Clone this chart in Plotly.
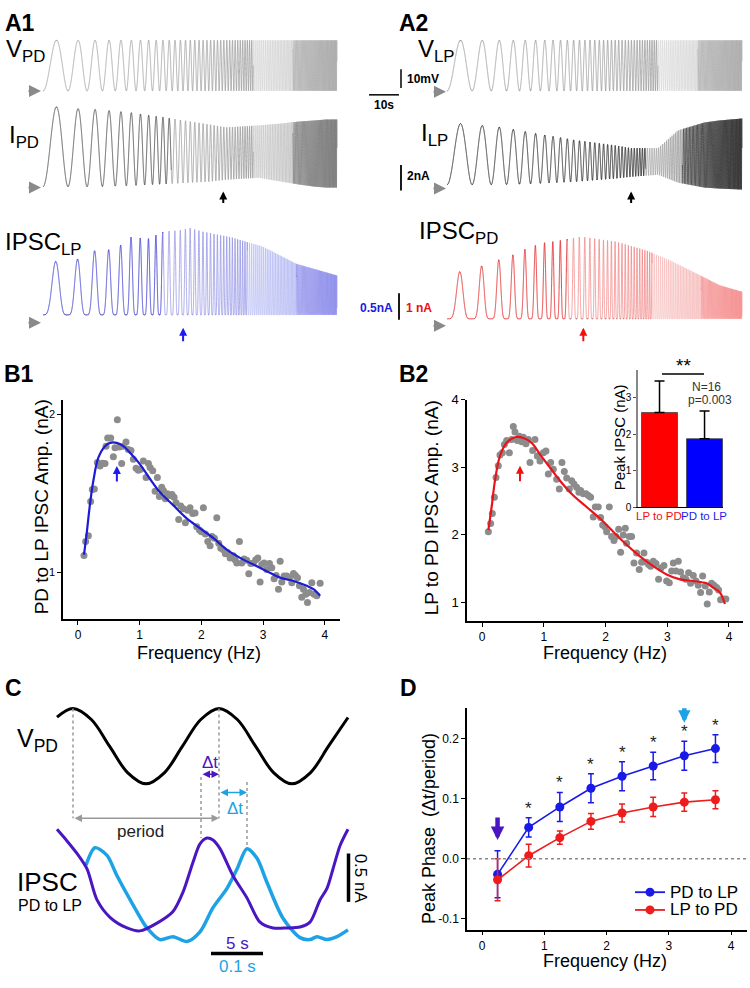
import numpy as np
import plotly.graph_objects as go

W, H = 750, 988
FONT = "Liberation Sans, Arial, Helvetica, sans-serif"

# ======================= DATA =======================
# ---- Panel A: chirp protocol (log sweep) and envelopes ----
chirp_f_start_hz = 0.1
chirp_f_end_hz = 4.0
chirp_duration_s = 100.0
v_pp_mV = 27.0

i_pd_env_freq = [0.1, 0.15, 0.2, 0.3, 0.5, 0.8, 1.0, 1.5, 2.0, 2.5, 3.0, 3.5, 4.0]
i_pd_top_nA = [6.64, 6.4, 6.32, 6.08, 5.6, 5.12, 4.88, 5.04, 5.2, 5.36, 5.44, 5.52, 5.52]
i_pd_bottom_nA = [0.08, 0.08, 0.08, 0.16, 0.32, 0.48, 0.64, 0.8, 0.48, 0.24, 0.08, 0.0, 0.0]

i_lp_env_freq = [0.1, 0.2, 0.3, 0.5, 0.8, 1.0, 1.4, 1.8, 2.5, 3.0, 4.0]
i_lp_top_nA = [5.44, 5.04, 4.56, 4.0, 3.6, 3.36, 3.36, 4.8, 5.44, 5.6, 5.76]
i_lp_bottom_nA = [0.4, 0.4, 0.48, 0.64, 0.88, 1.04, 1.2, 0.56, 0.16, 0.08, 0.0]

ipsc_lp_env_freq = [0.1, 0.115, 0.153, 0.188, 0.227, 0.263, 0.298, 0.375, 0.453, 0.57, 0.632,
                    0.745, 1.05, 1.58, 2.4, 3.4, 4.0]
ipsc_lp_peak_nA = [1.0, 1.0, 1.04, 1.2, 1.22, 1.3, 1.46, 1.43, 1.56, 1.59, 1.63,
                   1.56, 1.46, 1.28, 0.96, 0.81, 0.74]
ipsc_pd_env_freq = [0.1, 0.113, 0.151, 0.186, 0.223, 0.26, 0.297, 0.333, 0.402, 0.517, 0.554,
                    0.649, 0.835, 1.215, 1.63, 2.27, 3.03, 3.9, 4.0]
ipsc_pd_peak_nA = [1.74, 1.74, 1.96, 2.19, 2.37, 2.59, 2.74, 2.85, 2.93, 3.07, 3.07,
                   3.0, 2.89, 2.56, 2.19, 1.70, 1.26, 1.04, 1.02]

a1_i_arrow_hz = 0.96
a2_i_arrow_hz = 1.0
a1_ipsc_arrow_hz = 0.58
a2_ipsc_arrow_hz = 0.55

# ---- Panel B1: PD->LP IPSC amplitude vs frequency ----
b1_freq = [0.097, 0.124, 0.168, 0.205, 0.232, 0.265, 0.314, 0.357, 0.395, 0.438, 0.454, 0.481,
           0.530, 0.573, 0.600, 0.638, 0.670, 0.708, 0.735, 0.778, 0.816, 0.859, 0.897, 0.941,
           0.978, 1.016, 1.059, 1.103, 1.141, 1.168, 1.211, 1.249, 1.286, 1.319, 1.357, 1.384,
           1.416, 1.449, 1.492, 1.524, 1.557, 1.589, 1.632, 1.665, 1.708, 1.741, 1.778, 1.816,
           1.859, 1.897, 1.924, 1.968, 2.000, 2.032, 2.065, 2.103, 2.141, 2.173, 2.211, 2.249,
           2.281, 2.314, 2.357, 2.389, 2.422, 2.465, 2.519, 2.546, 2.573, 2.616, 2.654, 2.692,
           2.735, 2.768, 2.800, 2.843, 2.881, 2.914, 2.951, 2.978, 3.016, 3.059, 3.103, 3.141,
           3.178, 3.211, 3.249, 3.276, 3.303, 3.341, 3.384, 3.427, 3.465, 3.492, 3.524, 3.557,
           3.589, 3.627, 3.654, 3.692, 3.719, 3.751, 3.789, 3.827, 3.870, 3.924]
b1_amp = [1.108, 1.196, 1.233, 1.450, 1.525, 1.529, 1.696, 1.675, 1.692, 1.690, 1.800, 1.852,
          1.852, 1.733, 1.790, 1.967, 1.794, 1.690, 1.800, 1.827, 1.779, 1.773, 1.717, 1.660,
          1.648, 1.654, 1.706, 1.602, 1.690, 1.665, 1.644, 1.515, 1.602, 1.481, 1.540, 1.519,
          1.467, 1.498, 1.488, 1.494, 1.477, 1.442, 1.335, 1.421, 1.404, 1.315, 1.394, 1.410,
          1.373, 1.377, 1.290, 1.269, 1.258, 1.410, 1.244, 1.196, 1.169, 1.227, 1.217, 1.346,
          1.185, 1.154, 1.144, 1.119, 1.127, 1.092, 1.106, 1.081, 1.060, 1.196, 1.060, 1.085,
          1.077, 0.992, 1.056, 1.060, 1.081, 1.092, 0.940, 1.050, 1.060, 1.019, 1.056, 1.029,
          0.960, 0.981, 0.894, 1.071, 0.940, 0.977, 0.977, 0.967, 0.935, 0.994, 0.981, 0.967,
          0.915, 0.842, 0.894, 0.862, 0.810, 0.873, 0.935, 0.862, 0.852, 0.931]
b1_fit_freq = [0.097, 0.141, 0.195, 0.249, 0.330, 0.438, 0.519, 0.627, 0.735, 0.843, 1.005, 1.168,
               1.330, 1.546, 1.762, 1.978, 2.195, 2.411, 2.627, 2.843, 3.059, 3.276, 3.492, 3.708,
               3.816, 3.924]
b1_fit_amp = [1.112, 1.248, 1.435, 1.581, 1.727, 1.800, 1.821, 1.821, 1.800, 1.758, 1.685, 1.592,
              1.508, 1.425, 1.342, 1.279, 1.217, 1.144, 1.092, 1.050, 1.008, 0.967, 0.946, 0.915,
              0.894, 0.852]
b1_peak_hz = 0.63

# ---- Panel B2: LP->PD IPSC amplitude vs frequency ----
b2_freq = [0.103, 0.140, 0.167, 0.200, 0.227, 0.264, 0.291, 0.329, 0.362, 0.399, 0.443, 0.480,
           0.507, 0.534, 0.572, 0.604, 0.642, 0.669, 0.712, 0.750, 0.777, 0.820, 0.858, 0.896,
           0.939, 0.993, 1.036, 1.074, 1.112, 1.155, 1.209, 1.252, 1.295, 1.333, 1.371, 1.414,
           1.452, 1.489, 1.533, 1.570, 1.597, 1.641, 1.684, 1.722, 1.759, 1.802, 1.835, 1.883,
           1.921, 1.954, 1.991, 2.018, 2.062, 2.099, 2.137, 2.169, 2.213, 2.245, 2.288, 2.321,
           2.342, 2.385, 2.423, 2.461, 2.504, 2.547, 2.585, 2.623, 2.666, 2.698, 2.731, 2.774,
           2.817, 2.860, 2.898, 2.947, 2.990, 3.033, 3.071, 3.098, 3.141, 3.179, 3.216, 3.260,
           3.303, 3.346, 3.378, 3.422, 3.465, 3.503, 3.540, 3.573, 3.616, 3.648, 3.681, 3.718,
           3.756, 3.799, 3.832, 3.864, 3.907, 3.950]
b2_amp = [2.044, 2.166, 2.312, 2.556, 2.849, 3.020, 3.180, 3.215, 3.337, 3.395, 3.215, 3.410,
          3.605, 3.522, 3.395, 3.459, 3.376, 3.444, 3.346, 3.410, 3.068, 3.249, 3.410, 3.166,
          3.093, 3.215, 3.239, 2.898, 3.068, 2.971, 2.820, 2.678, 3.068, 2.937, 2.839, 2.678,
          2.800, 2.751, 2.702, 2.629, 2.654, 2.605, 2.605, 2.580, 2.556, 2.263, 2.410, 2.410,
          2.254, 2.141, 2.117, 2.044, 2.410, 1.971, 1.912, 1.971, 2.078, 1.737, 1.995, 2.093,
          1.873, 1.971, 1.971, 1.580, 1.727, 1.483, 1.590, 1.727, 1.590, 1.556, 1.532, 1.605,
          1.571, 1.337, 1.507, 1.541, 1.312, 1.288, 1.459, 1.580, 1.459, 1.605, 1.444, 1.361,
          1.337, 1.434, 1.278, 1.395, 1.312, 1.249, 1.141, 1.385, 1.239, 0.971, 1.151, 1.278,
          1.249, 1.215, 1.180, 1.034, 1.044, 1.044]
b2_fit_freq = [0.103, 0.156, 0.210, 0.291, 0.399, 0.534, 0.669, 0.804, 0.939, 1.101, 1.263, 1.479,
               1.695, 1.910, 2.126, 2.342, 2.558, 2.774, 2.990, 3.206, 3.422, 3.638, 3.746, 3.854,
               3.934]
b2_fit_amp = [2.068, 2.410, 2.800, 3.166, 3.361, 3.444, 3.434, 3.361, 3.190, 2.995, 2.800, 2.580,
              2.410, 2.239, 2.044, 1.849, 1.678, 1.532, 1.410, 1.337, 1.312, 1.278, 1.215, 1.141,
              0.971]
b2_peak_hz = 0.615

# ---- Inset: peak IPSC ----
inset_labels = ["LP to PD", "PD to LP"]
inset_peak_nA = [2.60, 1.88]
inset_sem_nA = [0.86, 0.76]

# ---- Panel C: example traces ----
c_vpd_t = [0, 1.6, 3.43, 5.25, 7.08, 8.9, 10.73, 12.55, 14.38, 16.2, 18.03, 19.85, 21.68,
           23.5, 25.33, 27.15, 29.1]
c_vpd_norm = [0.77, 1.0, 0.707, 0.0, -0.707, -1.0, -0.707, 0.0, 0.707, 1.0, 0.707, 0.0,
              -0.707, -1.0, -0.707, 0.0, 0.76]
c_slow_t = [0, 1.0, 2.0, 3.0, 4.0, 5.3, 7.0, 8.3, 10.0, 11.6, 12.6, 13.6, 14.3, 15.0, 15.6,
            16.3, 17.6, 19.0, 20.3, 21.6, 23.0, 24.3, 25.3, 26.3, 27.0, 27.6, 28.3, 29.1]
c_slow_nA = [1.14, 1.02, 0.89, 0.73, 0.41, 0.23, 0.12, 0.09, 0.17, 0.29, 0.49, 0.80, 0.99,
             1.05, 1.03, 0.94, 0.66, 0.43, 0.18, 0.12, 0.12, 0.13, 0.18, 0.41, 0.53, 0.73,
             0.97, 1.14]
c_fast_t = [2.9, 3.8, 5.0, 6.0, 7.6, 9.0, 10.3, 11.6, 13.0, 14.3, 15.6, 17.0, 18.0, 19.0,
            20.0, 21.0, 22.6, 24.3, 25.3, 26.0, 27.0, 28.0, 29.1]
c_fast_nA = [0.77, 0.95, 0.87, 0.66, 0.36, 0.12, 0.0, 0.03, -0.02, 0.08, 0.33, 0.53, 0.73,
             0.94, 0.84, 0.59, 0.22, 0.02, 0.0, 0.03, 0.0, 0.03, 0.10]
c_vpd_peaks_t = [1.6, 16.2]
c_slow_peak_t = 14.4
c_fast_peak_t = 19.0

# ---- Panel D: peak phase ----
d_freq = [0.25, 0.75, 1.25, 1.75, 2.25, 2.75, 3.25, 3.75]
d_pd_to_lp = [-0.026, 0.052, 0.086, 0.117, 0.137, 0.154, 0.171, 0.183]
d_pd_to_lp_err = [0.039, 0.016, 0.024, 0.024, 0.024, 0.023, 0.024, 0.023]
d_lp_to_pd = [-0.035, 0.005, 0.035, 0.062, 0.076, 0.086, 0.094, 0.098]
d_lp_to_pd_err = [0.035, 0.019, 0.011, 0.013, 0.015, 0.016, 0.015, 0.015]
d_significant = [False, True, True, True, True, True, True, True]
d_series_names = ["PD to LP", "LP to PD"]
d_slow_example_hz = 0.25
d_fast_example_hz = 3.25

# ======================= STYLE =======================
BLUE = "#1c1cd6"
RED = "#e8141c"
PURPLE = "#4a16c2"
LBLUE = "#1ea2e6"
GREY_DOT = "#8c8c8c"
D_BLUE = "#1a1ae6"
D_RED = "#ee1c1c"


def X(px):
    return px / W


def Y(py):
    return 1 - py / H


annotations = []
shapes = []
traces = []


def txt(s, px, py, size, color="black", xanchor="center", yanchor="middle", angle=0):
    annotations.append(dict(text=s, x=X(px), y=Y(py), xref="paper", yref="paper",
                            showarrow=False, xanchor=xanchor, yanchor=yanchor, textangle=angle,
                            font=dict(family=FONT, size=size, color=color)))


def parrow(tip, tail, color, width=2, size=1.0, head=2):
    annotations.append(dict(text="", x=X(tip[0]), y=Y(tip[1]), xref="paper", yref="paper",
                            ax=tail[0] - tip[0], ay=tail[1] - tip[1], showarrow=True,
                            arrowhead=head, arrowsize=size, arrowwidth=width, arrowcolor=color))


def darrow(xr, yr, x, y, ax, ay, color, width=2, size=1.0, head=2):
    annotations.append(dict(text="", x=x, y=y, xref=xr, yref=yr, ax=ax, ay=ay, showarrow=True,
                            arrowhead=head, arrowsize=size, arrowwidth=width, arrowcolor=color))


def pline(x0, y0, x1, y1, color="black", width=1.5, dash=None):
    shapes.append(dict(type="line", xref="paper", yref="paper", x0=X(x0), y0=Y(y0), x1=X(x1),
                       y1=Y(y1), line=dict(color=color, width=width, dash=dash)))


# ======================= PANEL A =======================
k = np.log(chirp_f_end_hz / chirp_f_start_hz) / chirp_duration_s
t = np.linspace(0, chirp_duration_s, 16000)
inst_f = chirp_f_start_hz * np.exp(k * t)
cycles = chirp_f_start_hz * (np.exp(k * t) - 1) / k
carrier = 0.5 * (1 - np.cos(2 * np.pi * cycles))
logf = np.log(inst_f)


def env(freqs, vals):
    return np.interp(logf, np.log(freqs), vals)


def t_of(f):
    return np.log(f / chirp_f_start_hz) / k


def ipsc_wave(p):
    s = 0.5 * (1 - np.cos(2 * np.pi * (cycles + 0.03)))
    return s ** p


v_mV = v_pp_mV * carrier
i_pd = env(i_pd_env_freq, i_pd_bottom_nA) + (env(i_pd_env_freq, i_pd_top_nA) -
                                              env(i_pd_env_freq, i_pd_bottom_nA)) * carrier
i_lp = env(i_lp_env_freq, i_lp_bottom_nA) + (env(i_lp_env_freq, i_lp_top_nA) -
                                              env(i_lp_env_freq, i_lp_bottom_nA)) * carrier
ipsc_lp = env(ipsc_lp_env_freq, ipsc_lp_peak_nA) * ipsc_wave(2.4)
ipsc_pd = env(ipsc_pd_env_freq, ipsc_pd_peak_nA) * ipsc_wave(3.2)


def banded(y, bands, colors, xa, ya, widths):
    for (lo, hi), col, wd in zip(zip(bands[:-1], bands[1:]), colors, widths):
        i0 = np.searchsorted(inst_f, lo)
        i1 = min(len(t), np.searchsorted(inst_f, hi) + 2)
        traces.append(go.Scatter(x=t[i0:i1], y=y[i0:i1], mode="lines", xaxis=xa, yaxis=ya,
                                 line=dict(color=col, width=wd, simplify=False),
                                 showlegend=False, hoverinfo="skip"))


# display scale (pixels per unit) and baselines (screen rows) for the traces
A1 = dict(v0=85, vs=1.9, i0=183, is_=12.5, p0=312, ps=54)
A2 = dict(v0=85, vs=1.9, i0=185, is_=12.5, p0=316, ps=27)

bands4 = [0.0, 1.4, 2.3, 5.0]
banded(A1["v0"] - A1["vs"] * v_mV, bands4, ["#8e8e8e", "#cbcbcb", "#a2a2a2"], "x", "y",
       [0.7, 0.6, 0.6])
banded(A1["i0"] - A1["is_"] * i_pd, [0.0, 0.5, 1.4, 2.3, 5.0],
       ["#333333", "#8a8a8a", "#b8b8b8", "#6e6e6e"], "x", "y", [0.8, 0.7, 0.6, 0.6])
banded(A1["p0"] - A1["ps"] * ipsc_lp, [0.0, 0.45, 1.3, 2.4, 5.0],
       ["#2a2acc", "#8888e4", "#aab0f2", "#7878e6"], "x", "y", [0.8, 0.7, 0.6, 0.5])

banded(A2["v0"] - A2["vs"] * v_mV, bands4, ["#8e8e8e", "#d0d0d0", "#a4a4a4"], "x2", "y2",
       [0.7, 0.6, 0.6])
banded(A2["i0"] - A2["is_"] * i_lp, [0.0, 1.2, 1.9, 5.0],
       ["#111111", "#888888", "#1e1e1e"], "x2", "y2", [0.8, 0.6, 0.6])
banded(A2["p0"] - A2["ps"] * ipsc_pd, [0.0, 0.45, 1.3, 2.4, 5.0],
       ["#e01010", "#f07a7a", "#f7b2b2", "#f27a7a"], "x2", "y2", [0.8, 0.7, 0.6, 0.5])

# labels
txt("<b>A1</b>", 3, 16, 23, xanchor="left")
txt("<b>A2</b>", 397, 16, 23, xanchor="left")
txt("V<sub>PD</sub>", 4, 44, 24, xanchor="left")
txt("I<sub>PD</sub>", 7, 131, 24, xanchor="left")
txt("IPSC<sub>LP</sub>", 3, 240, 24, xanchor="left")
txt("V<sub>LP</sub>", 416, 44, 24, xanchor="left")
txt("I<sub>LP</sub>", 419, 129, 24, xanchor="left")
txt("IPSC<sub>PD</sub>", 417, 228, 24, xanchor="left")

# grey baseline arrows
for tip in [(41, 85), (41, 183), (41, 320), (446, 86), (446, 184), (446, 323)]:
    parrow(tip, (tip[0] - 14, tip[1]), "#8a8a8a", width=2, size=1.2)

# marker arrows
darrow("x", "y", t_of(a1_i_arrow_hz), 187, 0, 13, "black", 2, 0.8)
darrow("x2", "y2", t_of(a2_i_arrow_hz), 187, 0, 13, "black", 2, 0.8)
darrow("x", "y", t_of(a1_ipsc_arrow_hz), 325, 0, 15, "#1c1cf0", 2, 0.8)
darrow("x2", "y2", t_of(a2_ipsc_arrow_hz), 325, 0, 15, "#f01010", 2, 0.8)

# scale bars
pline(401, 63, 401, 82, width=1.5)
txt("<b>10mV</b>", 405, 73, 12, xanchor="left")
pline(369, 89, 399, 89, width=1.5)
txt("<b>10s</b>", 384, 99, 12)
pline(401, 160, 401, 186, width=1.8)
txt("<b>2nA</b>", 405, 171, 12, xanchor="left")
pline(399, 290, 399, 317, width=1.8)
txt("<b>0.5nA</b>", 395, 305, 12, color="#1c1ce0", xanchor="right")
txt("<b>1 nA</b>", 404, 305, 12, color="#e81010", xanchor="left")

# ======================= PANEL B =======================
traces.append(go.Scatter(x=b1_freq, y=b1_amp, mode="markers", xaxis="x3", yaxis="y3",
                         marker=dict(size=7, color=GREY_DOT), showlegend=False))
traces.append(go.Scatter(x=b1_fit_freq, y=b1_fit_amp, mode="lines", xaxis="x3", yaxis="y3",
                         line=dict(color=BLUE, width=2.2, shape="spline", smoothing=1.0),
                         showlegend=False))
traces.append(go.Scatter(x=b2_freq, y=b2_amp, mode="markers", xaxis="x4", yaxis="y4",
                         marker=dict(size=7, color=GREY_DOT), showlegend=False))
traces.append(go.Scatter(x=b2_fit_freq, y=b2_fit_amp, mode="lines", xaxis="x4", yaxis="y4",
                         line=dict(color=RED, width=2.2, shape="spline", smoothing=1.0),
                         showlegend=False))
darrow("x3", "y3", b1_peak_hz, 1.675, 0, 17, "#1c1cf0", 2, 0.8)
darrow("x4", "y4", b2_peak_hz, 3.02, 0, 17, "#f01010", 2, 0.8)

txt("<b>B1</b>", 2, 372, 23, xanchor="left")
txt("<b>B2</b>", 397, 372, 23, xanchor="left")
txt("PD to LP IPSC Amp. (nA)", 41, 507, 19, angle=-90)
txt("LP to PD IPSC Amp. (nA)", 431, 508, 19, angle=-90)
txt("Frequency (Hz)", 199, 655, 18)
txt("Frequency (Hz)", 605, 655, 18)

# inset
traces.append(go.Bar(x=[0, 1], y=inset_peak_nA, xaxis="x5", yaxis="y5", width=0.8,
                     marker=dict(color=["#ff0000", "#0000ff"], line=dict(color="#444", width=0.8)),
                     error_y=dict(type="data", array=inset_sem_nA, arrayminus=[0, 0],
                                  symmetric=False, color="black", thickness=1.5, width=5),
                     showlegend=False))
txt(inset_labels[0], 659, 516, 11.5, color="#f01010")
txt(inset_labels[1], 704, 516, 11.5, color="#1c1cf0")
txt("Peak IPSC (nA)", 619, 436, 15, angle=-90)
txt("**", 683, 363, 19)
pline(662, 372, 704, 372, width=1.5)
txt("N=16", 706, 385, 12, color="#333")
txt("p=0.003", 710, 398, 12, color="#333")

# ======================= PANEL C =======================
V_CENTER, V_SCALE = 2.0, 0.39
traces.append(go.Scatter(x=c_vpd_t, y=[V_CENTER + V_SCALE * v for v in c_vpd_norm], mode="lines",
                         xaxis="x6", yaxis="y6", showlegend=False,
                         line=dict(color="black", width=3, shape="spline", smoothing=1.0)))
traces.append(go.Scatter(x=c_fast_t, y=c_fast_nA, mode="lines", xaxis="x6", yaxis="y6",
                         showlegend=False,
                         line=dict(color=LBLUE, width=3.5, shape="spline", smoothing=0.8)))
traces.append(go.Scatter(x=c_slow_t, y=c_slow_nA, mode="lines", xaxis="x6", yaxis="y6",
                         showlegend=False,
                         line=dict(color=PURPLE, width=3, shape="spline", smoothing=0.8)))


def cline(x0, y0, x1, y1, color="#999", width=1.5, dash="dot"):
    shapes.append(dict(type="line", xref="x6", yref="y6", x0=x0, y0=y0, x1=x1, y1=y1,
                       line=dict(color=color, width=width, dash=dash)))


v_peak_val = V_CENTER + V_SCALE * max(c_vpd_norm)
PERIOD_Y = 1.255
for tp in c_vpd_peaks_t:
    cline(tp, v_peak_val, tp, PERIOD_Y)
cline(c_slow_peak_t, 1.68, c_slow_peak_t, max(c_slow_nA[10:16]))
cline(c_fast_peak_t, 1.63, c_fast_peak_t, max(c_fast_nA))


def cdouble(x0, x1, y, color, width=1.5):
    annotations.append(dict(text="", x=x1, y=y, ax=x0, ay=y, xref="x6", yref="y6", axref="x6",
                            ayref="y6", showarrow=True, arrowside="end+start", arrowhead=2,
                            arrowsize=1.0, arrowwidth=width, arrowcolor=color))


cdouble(c_vpd_peaks_t[0], c_vpd_peaks_t[1], PERIOD_Y, "#999999")
cdouble(c_slow_peak_t, c_vpd_peaks_t[1], 1.71, PURPLE)
cdouble(c_vpd_peaks_t[1], c_fast_peak_t, 1.52, LBLUE)
annotations.append(dict(text="period", x=8.3, y=1.12, xref="x6", yref="y6", showarrow=False,
                        font=dict(family=FONT, size=17, color="#222")))
annotations.append(dict(text="Δt", x=15.3, y=1.83, xref="x6", yref="y6", showarrow=False,
                        font=dict(family=FONT, size=17, color=PURPLE)))
annotations.append(dict(text="Δt", x=17.8, y=1.36, xref="x6", yref="y6", showarrow=False,
                        font=dict(family=FONT, size=17, color=LBLUE)))
# scale bars
cline(29.15, 0.39, 29.15, 0.89, color="black", width=3.5, dash="solid")
annotations.append(dict(text="0.5 nA", x=30.3, y=0.63, xref="x6", yref="y6", showarrow=False,
                        textangle=90, font=dict(family=FONT, size=17, color="black")))
cline(15.4, -0.143, 20.6, -0.143, color="black", width=3.5, dash="solid")
annotations.append(dict(text="5 s", x=18.0, y=-0.04, xref="x6", yref="y6", showarrow=False,
                        font=dict(family=FONT, size=17, color=PURPLE)))
annotations.append(dict(text="0.1 s", x=18.0, y=-0.28, xref="x6", yref="y6", showarrow=False,
                        font=dict(family=FONT, size=17, color=LBLUE)))

txt("<b>C</b>", 3, 690, 23, xanchor="left")
txt("V<sub>PD</sub>", 15, 743, 25, xanchor="left")
txt("IPSC", 15, 887, 26, xanchor="left")
txt("PD to LP", 16, 910, 16, xanchor="left")

# ======================= PANEL D =======================
for name, vals, errs, col in [(d_series_names[0], d_pd_to_lp, d_pd_to_lp_err, D_BLUE),
                              (d_series_names[1], d_lp_to_pd, d_lp_to_pd_err, D_RED)]:
    traces.append(go.Scatter(x=d_freq, y=vals, mode="lines+markers", name=name,
                             xaxis="x7", yaxis="y7", line=dict(color=col, width=1.6),
                             marker=dict(size=9, color=col), showlegend=False,
                             error_y=dict(type="data", array=errs, color=col,
                                          thickness=1.5, width=3)))
for f, v, e, s in zip(d_freq, d_pd_to_lp, d_pd_to_lp_err, d_significant):
    if s:
        annotations.append(dict(text="*", x=f, y=v + e, xref="x7", yref="y7", showarrow=False,
                                yanchor="bottom", yshift=-2,
                                font=dict(family=FONT, size=17, color="#222")))
shapes.append(dict(type="line", xref="x7 domain", yref="y7", x0=0, x1=1, y0=0, y1=0,
                   line=dict(color="#888", width=1.5, dash="dot")))
darrow("x7", "y7", d_slow_example_hz, 0.031, 0, -24, PURPLE, 4.5, 0.6)
darrow("x7", "y7", d_fast_example_hz, 0.226, 0, -16, LBLUE, 4.5, 0.55)

# legend (drawn by hand so it sits exactly where the reference has it)
for i, (name, col) in enumerate(zip(d_series_names, [D_BLUE, D_RED])):
    ly = 897 + 18 * i
    pline(635, ly, 665, ly, color=col, width=1.8)
    shapes.append(dict(type="circle", xref="paper", yref="paper", x0=X(645.5), x1=X(654.5),
                       y0=Y(ly + 4.5), y1=Y(ly - 4.5), fillcolor=col, line=dict(color=col, width=0)))
    txt(name, 668, ly, 17, xanchor="left")

txt("<b>D</b>", 398, 690, 23, xanchor="left")
txt("Peak Phase  (Δt/period)", 429, 832, 18, angle=-90)
txt("Frequency (Hz)", 605, 967, 18)

# ======================= LAYOUT =======================
def dom_x(a, b):
    return [X(a), X(b)]


def dom_y(top, bottom):
    return [Y(bottom), Y(top)]


hidden = dict(visible=False, showgrid=False, zeroline=False)
ax_common = dict(showline=True, linecolor="black", linewidth=1.5, ticks="outside", ticklen=4,
                 tickcolor="black", tickwidth=1.2, showgrid=False, zeroline=False,
                 mirror=False, tickfont=dict(family=FONT, size=12, color="black"))

layout = dict(
    width=W, height=H, margin=dict(l=0, r=0, t=0, b=0),
    paper_bgcolor="white", plot_bgcolor="white",
    font=dict(family=FONT, color="black"),
    showlegend=False,
    xaxis=dict(domain=dom_x(20, 350), range=[(20 - 43) / 2.94, (350 - 43) / 2.94], **hidden,
               anchor="y"),
    yaxis=dict(domain=dom_y(20, 345), range=[345, 20], **hidden, anchor="x"),
    xaxis2=dict(domain=dom_x(360, 750), range=[(360 - 447) / 2.95, (750 - 447) / 2.95],
                **hidden, anchor="y2"),
    yaxis2=dict(domain=dom_y(20, 345), range=[345, 20], **hidden, anchor="x2"),
    xaxis3=dict(domain=dom_x(63, 340), range=[-0.243, 4.246], tickvals=[0, 1, 2, 3, 4],
                anchor="y3", **ax_common),
    yaxis3=dict(domain=dom_y(398, 620), range=[0.706, 2.094], tickvals=[1, 2], anchor="x3",
                **{**ax_common, "tickfont": dict(family=FONT, size=11, color="black")}),
    xaxis4=dict(domain=dom_x(467, 743), range=[-0.243, 4.227], tickvals=[0, 1, 2, 3, 4],
                anchor="y4", **ax_common),
    yaxis4=dict(domain=dom_y(398, 622), range=[0.722, 4.0], tickvals=[1, 2, 3, 4], anchor="x4",
                **{**ax_common, "tickfont": dict(family=FONT, size=13, color="black")}),
    xaxis5=dict(domain=dom_x(638, 723), range=[-0.478, 1.41], showticklabels=False,
                showline=True, linecolor="black", linewidth=1.2, ticks="", showgrid=False,
                zeroline=False, anchor="y5"),
    yaxis5=dict(domain=dom_y(368, 507), range=[0, 3.76], tickvals=[0, 1, 2, 3], anchor="x5",
                showline=True, linecolor="#888", linewidth=1.5, ticks="outside", ticklen=3,
                tickcolor="#555", showgrid=False, zeroline=False,
                tickfont=dict(family=FONT, size=10, color="black")),
    xaxis6=dict(domain=dom_x(50, 370), range=[-0.7, 31.3], **hidden, anchor="y6"),
    yaxis6=dict(domain=dom_y(700, 980), range=[-0.357, 2.5], **hidden, anchor="x6"),
    xaxis7=dict(domain=dom_x(467, 747), range=[-0.241, 4.257], tickvals=[0, 1, 2, 3, 4],
                anchor="y7", **ax_common),
    yaxis7=dict(domain=dom_y(710, 935), range=[-0.118, 0.251], tickvals=[-0.1, 0, 0.1, 0.2],
                ticktext=["-0.1", "0.0", "0.1", "0.2"], anchor="x7", **ax_common),
    annotations=annotations, shapes=shapes,
)

fig = go.Figure(data=traces, layout=layout)
fig.write_html("out.html", config={"displayModeBar": False},
               post_script="document.body.style.margin='0';"
                           "document.body.style.overflow='hidden';")
